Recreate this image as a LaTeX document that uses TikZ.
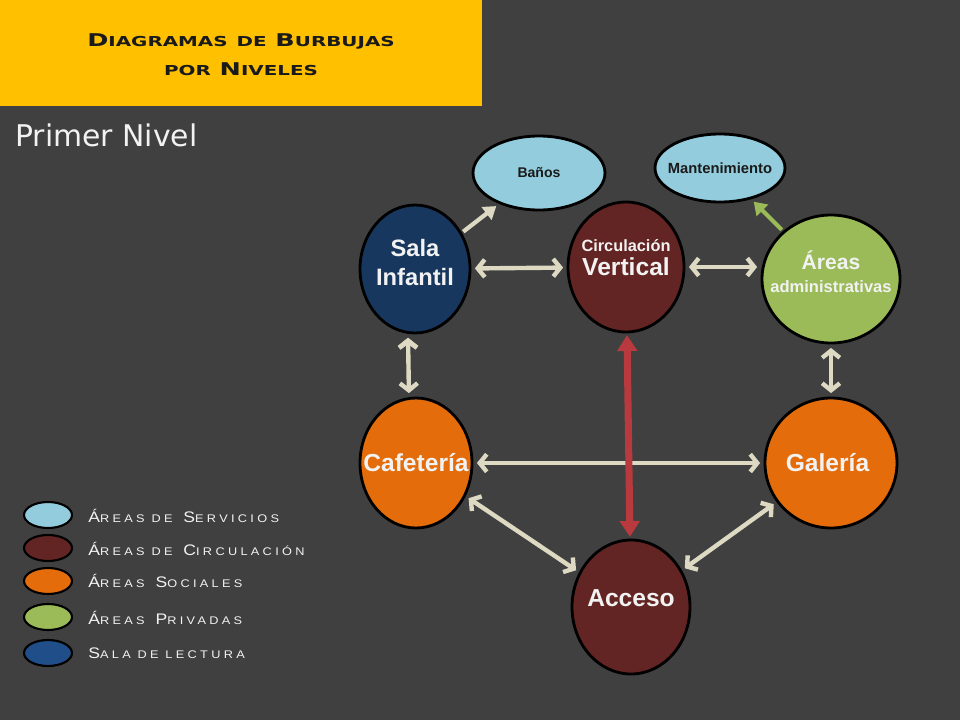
\documentclass[tikz,border=0pt]{standalone}
\usepackage{fontspec}
\setmainfont{Liberation Sans}
\newfontfamily\titlefont[FakeStretch=1.45]{DejaVu Sans}
\newfontfamily\nivelfont{DejaVu Sans}
\newfontfamily\legendfont[LetterSpace=30,FakeStretch=1.15]{Liberation Sans}
\usetikzlibrary{shapes.geometric,arrows.meta}
\definecolor{fondo}{HTML}{404040}
\definecolor{amarillo}{HTML}{FFC000}
\definecolor{azulclaro}{HTML}{93CDDD}
\definecolor{guinda}{HTML}{632523}
\definecolor{naranja}{HTML}{E46C0A}
\definecolor{verde}{HTML}{9BBB59}
\definecolor{azul}{HTML}{17375E}
\definecolor{azulley}{HTML}{1F4E89}
\definecolor{crema}{HTML}{DDD9C3}
\definecolor{rojo}{HTML}{B83A3E}
\definecolor{texto}{HTML}{F2F2F2}
\definecolor{oscuro}{HTML}{1A1A1A}
\newcommand\tcaps[2]{{\fontsize{10}{12}\selectfont #1}{\fontsize{7.8}{12}\selectfont #2}}
\newcommand\lcaps[2]{{\fontsize{8.7}{10}\selectfont #1}{\fontsize{6.3}{10}\selectfont #2}}
\newcommand\nw[1]{\makebox[0pt]{#1}}
\begin{document}
\begin{tikzpicture}[x=0.02cm,y=-0.02cm]
	\tikzstyle{bubble}=[ellipse,draw=black,line width=1.6pt,inner sep=0pt,align=center,text=texto]
	\tikzstyle{link}=[draw,line width=2.5pt,crema,{Straight Barb[length=4pt,width=10pt]}-{Straight Barb[length=4pt,width=10pt]},shorten <=2pt,shorten >=2pt]
	\tikzstyle{oneway}=[draw,line width=2.4pt,crema,-{Triangle[length=7pt,width=9pt]},shorten <=1pt,shorten >=2pt]
	\tikzstyle{vertical}=[draw,line width=4pt,rojo,{Triangle[length=9pt,width=11pt]}-{Triangle[length=9pt,width=11pt]},shorten <=1pt,shorten >=1pt]
	\tikzstyle{key}=[ellipse,draw=black,line width=1.2pt,minimum width=0.96cm,minimum height=0.52cm,inner sep=0pt]
	\tikzstyle{keytext}=[anchor=west,text=texto,font=\legendfont,inner sep=0pt]
	\fill[fondo] (0,0) rectangle (960,720);
	\fill[amarillo] (0,0) rectangle (482,106);
	\node [anchor=base,font=\titlefont\bfseries,text=oscuro,inner sep=0pt] (titulo1) at (241,46) {\tcaps{D}{IAGRAMAS} \tcaps{}{DE} \tcaps{B}{URBUJAS}};
	\node [anchor=base,font=\titlefont\bfseries,text=oscuro,inner sep=0pt] (titulo2) at (241,75) {\tcaps{}{POR} \tcaps{N}{IVELES}};
	\node [anchor=base west,font=\nivelfont\fontsize{17}{20}\selectfont,text=texto,inner sep=0pt] (nivel) at (15,146) {Primer Nivel};
	\begin{scope}
		\node [bubble,fill=azulclaro,minimum width=2.64cm,minimum height=1.48cm,text=oscuro,font=\bfseries\fontsize{8}{9}\selectfont] (banos) at (539,173) {\nw{Baños}};
		\node [bubble,fill=azulclaro,minimum width=2.6cm,minimum height=1.36cm,text=oscuro,font=\bfseries\fontsize{8.4}{9}\selectfont] (mant) at (720,168) {\nw{Mantenimiento}};
		\node [bubble,fill=azul,minimum width=2.2cm,minimum height=2.56cm,text depth=8pt,font=\bfseries\fontsize{13.5}{16.5}\selectfont] (sala) at (415,269) {\nw{Sala}\\\nw{Infantil}};
		\node [bubble,fill=guinda,minimum width=2.32cm,minimum height=2.6cm,text depth=11pt,font=\bfseries\fontsize{14}{14}\selectfont] (circ) at (626,267) {\nw{\fontsize{9.3}{11}\selectfont Circulación}\\\nw{Vertical}};
		\node [bubble,fill=verde,minimum width=2.76cm,minimum height=2.56cm,text depth=8pt,font=\bfseries\fontsize{12}{13}\selectfont] (areas) at (831,279) {\nw{Áreas}\\\nw{\fontsize{9.4}{11}\selectfont administrativas}};
		\node [bubble,fill=naranja,minimum width=2.24cm,minimum height=2.6cm,font=\bfseries\fontsize{14}{16}\selectfont] (cafe) at (416,463) {\nw{Cafetería}};
		\node [bubble,fill=naranja,minimum width=2.64cm,minimum height=2.6cm,font=\bfseries\fontsize{14}{16}\selectfont] (galeria) at (831,463) {\nw{\hspace*{-4pt}Galería}};
		\node [bubble,fill=guinda,minimum width=2.36cm,minimum height=2.68cm,text depth=10pt,font=\bfseries\fontsize{14}{16}\selectfont] (acceso) at (631,607) {\nw{Acceso}};
		\path[link] (sala) edge (circ);
		\path[link] (circ) edge (areas.west |- circ);
		\path[link] ([xshift=-4pt]sala.south) edge ([xshift=-4pt]cafe.north);
		\path[link] (areas) edge (galeria);
		\path[link] (cafe) edge (galeria);
		\path[link] (cafe) edge (acceso);
		\path[link] (galeria) edge (acceso);
		\path[oneway] (sala) edge (banos);
		\path[oneway,verde] (areas) edge (mant);
		\path[vertical] (circ) edge (acceso);
	\end{scope}
	\begin{scope}
		\node [key,fill=azulclaro] (k1) at (48,515) {};
		\node [key,fill=guinda] (k2) at (48,548) {};
		\node [key,fill=naranja] (k3) at (48,581) {};
		\node [key,fill=verde] (k4) at (48,617) {};
		\node [key,fill=azulley] (k5) at (48,653) {};
		\node [keytext] (t1) at (88,516) {\lcaps{Á}{REAS DE} \lcaps{S}{ERVICIOS}};
		\node [keytext] (t2) at (88,549) {\lcaps{Á}{REAS DE} \lcaps{C}{IRCULACIÓN}};
		\node [keytext] (t3) at (88,581) {\lcaps{Á}{REAS} \lcaps{S}{OCIALES}};
		\node [keytext] (t4) at (88,618) {\lcaps{Á}{REAS} \lcaps{P}{RIVADAS}};
		\node [keytext] (t5) at (88,653) {\lcaps{S}{ALA DE LECTURA}};
	\end{scope}
\end{tikzpicture}
\end{document}
